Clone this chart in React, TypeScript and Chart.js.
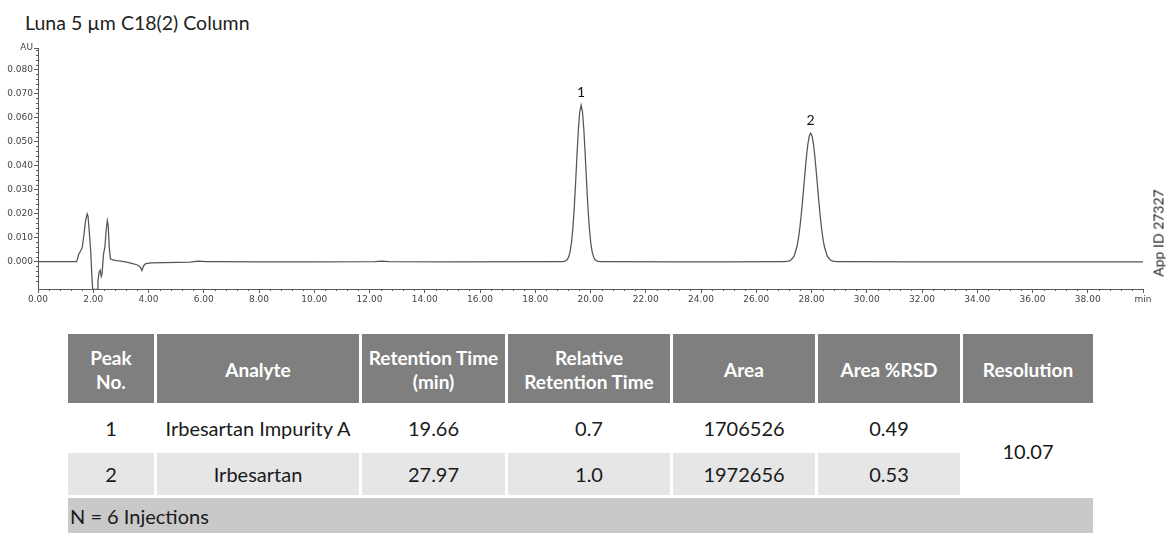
import React, { useEffect, useRef } from "react";
import { Chart, registerables } from "chart.js";

Chart.register(...registerables);

const chartTitle = "Luna 5 µm C18(2) Column";
const appIdLabel = "App ID 27327";

// Axis ranges: retention time (min) and absorbance (AU)
const timeRange = [0, 40];
const auRange = [-0.0114, 0.089];
const timeTickValues = [0, 2, 4, 6, 8, 10, 12, 14, 16, 18, 20, 22, 24, 26, 28, 30, 32, 34, 36, 38, 40];
const timeEndLabel = "min";
const auTickValues = [0, 0.01, 0.02, 0.03, 0.04, 0.05, 0.06, 0.07, 0.08];
const auTopLabel = "AU";

// Solvent front / void-volume disturbance
const frontTime = [0.0, 1.4, 1.43, 1.47, 1.52, 1.6, 1.66, 1.72, 1.78, 1.81, 1.86, 1.91, 1.95, 1.98, 2.14, 2.17, 2.21, 2.25, 2.29, 2.32, 2.37, 2.42, 2.47, 2.51, 2.54, 2.58, 2.62, 2.7, 2.85, 3.0, 3.2, 3.4, 3.6, 3.7, 3.76, 3.82, 3.9, 4.1, 4.6, 5.5, 5.8, 6.1];
const frontAU = [0.0, 0.0, 0.0012, 0.003, 0.004, 0.0058, 0.011, 0.017, 0.0199, 0.019, 0.012, 0.004, -0.006, -0.0116, -0.0116, -0.008, -0.0045, -0.0036, -0.0062, -0.005, 0.003, 0.006, 0.0135, 0.0171, 0.015, 0.006, 0.0012, 0.0007, 0.0004, 0.0002, -0.0002, -0.0007, -0.0014, -0.0022, -0.0037, -0.0018, -0.0008, -0.0005, -0.0004, -0.0002, 0.0002, 0.0];

// Baseline stretches between the peaks
const baselineATime = [6.6, 8.0, 10.0, 12.2, 12.45, 12.7, 15.0, 18.9];
const baselineAAU = [0.0, -0.0001, -0.0001, 0.0, 0.0002, 0.0, -0.0001, 0.0];
const baselineBTime = [20.6, 23.0, 25.0, 26.9];
const baselineBAU = [0.0, -0.0001, -0.0001, 0.0];
const baselineCTime = [29.2, 32.0, 36.0, 40.0];
const baselineCAU = [0.0, -0.0001, -0.0001, -0.0001];

// Peak profiles, time relative to the retention time
const peak1Offset = [-0.7, -0.6, -0.5, -0.45, -0.4, -0.35, -0.3, -0.25, -0.2, -0.15, -0.1, -0.05, 0, 0.05, 0.1, 0.15, 0.2, 0.25, 0.3, 0.35, 0.4, 0.45, 0.5, 0.6, 0.7];
const peak1AU = [0.0, 0.0001, 0.0009, 0.002, 0.0041, 0.0078, 0.0137, 0.0221, 0.0326, 0.0442, 0.0548, 0.0624, 0.0652, 0.0624, 0.0548, 0.0442, 0.0326, 0.0221, 0.0137, 0.0078, 0.0041, 0.002, 0.0009, 0.0001, 0.0];
const peak2Offset = [-0.95, -0.8, -0.7, -0.6, -0.5, -0.45, -0.4, -0.35, -0.3, -0.25, -0.2, -0.15, -0.1, -0.05, 0, 0.05, 0.1, 0.15, 0.2, 0.25, 0.3, 0.35, 0.4, 0.45, 0.5, 0.6, 0.7, 0.8, 0.95];
const peak2AU = [0.0, 0.0002, 0.0008, 0.0023, 0.0061, 0.0092, 0.0133, 0.0185, 0.0245, 0.0311, 0.0378, 0.044, 0.0491, 0.0524, 0.0535, 0.0524, 0.0491, 0.044, 0.0378, 0.0311, 0.0245, 0.0185, 0.0133, 0.0092, 0.0061, 0.0023, 0.0008, 0.0002, 0.0];

// Results table
const tableHeaders = [["Peak", "No."], ["Analyte"], ["Retention Time", "(min)"], ["Relative", "Retention Time"], ["Area"], ["Area %RSD"], ["Resolution"]];
const peakNumbers = ["1", "2"];
const analytes = ["Irbesartan Impurity A", "Irbesartan"];
const retentionTimes = [19.66, 27.97];
const relativeRetentionTimes = ["0.7", "1.0"];
const peakAreas = ["1706526", "1972656"];
const areaRSD = ["0.49", "0.53"];
const resolutionValue = "10.07";
const injectionsNote = "N = 6 Injections";

const peakShapes = [
  { offset: peak1Offset, au: peak1AU },
  { offset: peak2Offset, au: peak2AU },
];

function segment(times: number[], values: number[]) {
  return times.map((t, i) => ({ x: t, y: values[i] }));
}

function buildTrace() {
  const peak1 = segment(peak1Offset.map((d) => retentionTimes[0] + d), peak1AU);
  const peak2 = segment(peak2Offset.map((d) => retentionTimes[1] + d), peak2AU);
  return [
    ...segment(frontTime, frontAU),
    ...segment(baselineATime, baselineAAU),
    ...peak1,
    ...segment(baselineBTime, baselineBAU),
    ...peak2,
    ...segment(baselineCTime, baselineCAU),
  ];
}

const axisColor = "#5a5a5a";
const tickFont = { family: "'DejaVu Sans', 'Liberation Sans', sans-serif", size: 9 };

// Short unlabelled ticks between the labelled ones
const minorTickPlugin = {
  id: "minorTicks",
  afterDraw(chart: any) {
    const { ctx, chartArea, scales } = chart;
    const x = scales.x;
    const y = scales.y;
    ctx.save();
    ctx.strokeStyle = axisColor;
    ctx.lineWidth = 1;
    ctx.beginPath();
    for (let i = 0; i <= 100; i++) {
      if (i % 5 === 0) continue;
      const px = Math.round(x.getPixelForValue(i * 0.4)) + 0.5;
      ctx.moveTo(px, chartArea.bottom);
      ctx.lineTo(px, chartArea.bottom + 2);
    }
    for (let i = -5; i <= 44; i++) {
      if (i % 5 === 0) continue;
      const v = i * 0.002;
      if (v < auRange[0] || v > auRange[1]) continue;
      const py = Math.round(y.getPixelForValue(v)) + 0.5;
      ctx.moveTo(chartArea.left, py);
      ctx.lineTo(chartArea.left - 2, py);
    }
    ctx.stroke();
    ctx.restore();
  },
};

// Peak numbers above each apex
const peakLabelPlugin = {
  id: "peakLabels",
  afterDatasetsDraw(chart: any) {
    const { ctx, scales } = chart;
    ctx.save();
    ctx.font = "14px Lato, 'Open Sans', sans-serif";
    ctx.fillStyle = "#111";
    ctx.textAlign = "center";
    ctx.textBaseline = "alphabetic";
    peakShapes.forEach((p, i) => {
      const apex = Math.max(...p.au);
      const px = scales.x.getPixelForValue(retentionTimes[i]);
      const py = scales.y.getPixelForValue(apex);
      ctx.fillText(peakNumbers[i], px, py - 8);
    });
    ctx.restore();
  },
};

function Chromatogram() {
  const ref = useRef<HTMLCanvasElement | null>(null);

  useEffect(() => {
    if (!ref.current) return;
    const chart = new Chart(ref.current, {
      type: "line",
      data: {
        datasets: [
          {
            data: buildTrace(),
            borderColor: "#555555",
            borderWidth: 1.25,
            pointRadius: 0,
            tension: 0,
            fill: false,
          },
        ],
      },
      options: {
        animation: false,
        responsive: false,
        maintainAspectRatio: false,
        events: [],
        parsing: false,
        layout: { padding: { left: 0, right: 26, top: 18, bottom: 0 } },
        plugins: {
          legend: { display: false },
          tooltip: { enabled: false },
          title: { display: false },
        },
        scales: {
          x: {
            type: "linear",
            min: timeRange[0],
            max: timeRange[1],
            afterBuildTicks: (s: any) => {
              s.ticks = timeTickValues.map((v) => ({ value: v }));
            },
            afterFit: (s: any) => {
              s.height = 21;
            },
            ticks: {
              autoSkip: false,
              maxRotation: 0,
              padding: 1,
              color: "#444",
              font: tickFont,
              callback: (v: any) => (Number(v) === timeRange[1] ? timeEndLabel : Number(v).toFixed(2)),
            },
            grid: { drawOnChartArea: false, tickLength: 4, tickColor: axisColor },
            border: { color: axisColor, width: 1 },
          },
          y: {
            type: "linear",
            min: auRange[0],
            max: auRange[1],
            afterBuildTicks: (s: any) => {
              s.ticks = [...auTickValues, auRange[1]].map((v) => ({ value: v }));
            },
            afterFit: (s: any) => {
              s.width = 38;
            },
            ticks: {
              autoSkip: false,
              padding: 1,
              color: "#444",
              font: tickFont,
              callback: (v: any) => (Number(v) === auRange[1] ? auTopLabel : Number(v).toFixed(3)),
            },
            grid: { drawOnChartArea: false, tickLength: 4, tickColor: axisColor },
            border: { color: axisColor, width: 1 },
          },
        },
      },
      plugins: [minorTickPlugin, peakLabelPlugin],
    } as any);
    return () => chart.destroy();
  }, []);

  return (
    <canvas
      ref={ref}
      width={1169}
      height={280}
      style={{ position: "absolute", left: 0, top: 30, width: 1169, height: 280 }}
    />
  );
}

const tableFont = "Lato, 'Open Sans', sans-serif";
const columnWidths = [86, 202, 143, 162, 142, 142, 130];

function ResultsTable() {
  const cell = (extra: React.CSSProperties): React.CSSProperties => ({
    display: "flex",
    alignItems: "center",
    justifyContent: "center",
    textAlign: "center",
    ...extra,
  });
  return (
    <div
      style={{
        position: "absolute",
        left: 68,
        top: 334,
        display: "grid",
        gridTemplateColumns: columnWidths.map((w) => `${w}px`).join(" "),
        gridTemplateRows: "69px 44px 42px 35px",
        columnGap: 3,
        rowGap: 3,
        fontFamily: tableFont,
        fontSize: 20,
        color: "#1a1a1a",
      }}
    >
      {tableHeaders.map((lines, i) => (
        <div
          key={"h" + i}
          style={cell({
            background: "#7f7f7f",
            color: "#fff",
            fontWeight: 700,
            fontSize: 19,
            flexDirection: "column",
            lineHeight: "24px",
            paddingTop: 3,
          })}
        >
          {lines.map((l, j) => (
            <span key={j} style={{ whiteSpace: "nowrap" }}>{l}</span>
          ))}
        </div>
      ))}
      {peakNumbers.map((num, r) => {
        const bg = r === 1 ? "#e6e6e6" : "#ffffff";
        const row = r + 2;
        const values = [num, analytes[r], retentionTimes[r].toFixed(2), relativeRetentionTimes[r], peakAreas[r], areaRSD[r]];
        return values.map((v, c) => (
          <div key={`r${r}c${c}`} style={cell({ background: bg, gridRow: row, gridColumn: c + 1, whiteSpace: "nowrap" })}>
            {v}
          </div>
        ));
      })}
      <div style={cell({ background: "#ffffff", gridRow: "2 / 4", gridColumn: 7 })}>{resolutionValue}</div>
      <div
        style={cell({
          background: "#c9c9c9",
          gridRow: 4,
          gridColumn: "1 / 8",
          justifyContent: "flex-start",
          paddingLeft: 2,
        })}
      >
        {injectionsNote}
      </div>
    </div>
  );
}

export default function App() {
  return (
    <div
      style={{
        position: "absolute",
        left: 0,
        top: 0,
        width: 1169,
        height: 536,
        overflow: "hidden",
        background: "#fff",
      }}
    >
      <div
        style={{
          position: "absolute",
          left: 25,
          top: 12,
          fontFamily: tableFont,
          fontSize: 19.5,
          lineHeight: "22px",
          color: "#222",
          whiteSpace: "nowrap",
        }}
      >
        {chartTitle}
      </div>
      <Chromatogram />
      <div
        style={{
          position: "absolute",
          left: 1158,
          top: 233,
          transform: "translate(-50%, -50%) rotate(-90deg)",
          fontFamily: tableFont,
          fontSize: 14,
          color: "#222",
          whiteSpace: "nowrap",
        }}
      >
        {appIdLabel}
      </div>
      <ResultsTable />
    </div>
  );
}
